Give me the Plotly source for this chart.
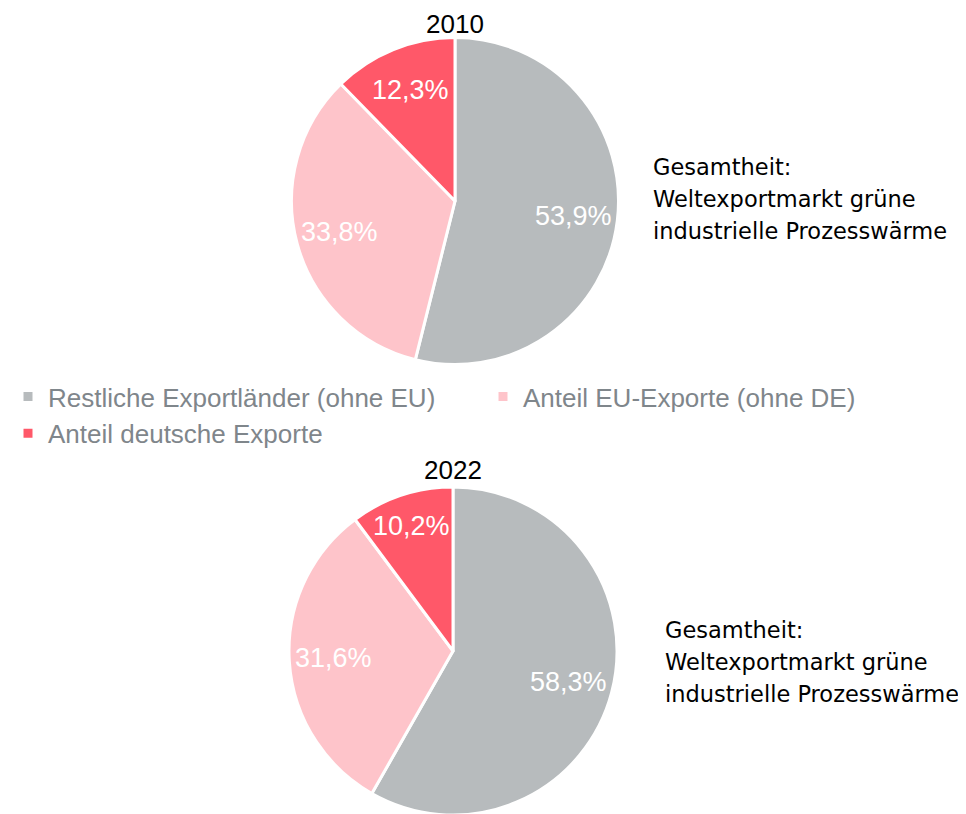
import math
import plotly.graph_objects as go

labels = ["Restliche Exportländer (ohne EU)", "Anteil EU-Exporte (ohne DE)", "Anteil deutsche Exporte"]
colors = ["#b7bbbd", "#fec4ca", "#ff5869"]
values_2010 = [53.9, 33.8, 12.3]
values_2022 = [58.3, 31.6, 10.2]
years = ["2010", "2022"]
note_lines = ["Gesamtheit:", "Weltexportmarkt grüne", "industrielle Prozesswärme"]

FONT = "Liberation Sans"
NOTE_FONT = "DejaVu Sans"
W, H = 966, 814
OFF = 8  # page body margin offset


def fx(px):
    return (px - OFF) / W


def fy(py):
    return 1 - (py - OFF) / H


def fmt(v):
    return f"{v:.1f}".replace(".", ",") + "%"


# pie geometry (screen px): centre and radius
pies = [
    dict(vals=values_2010, cx=455, cy=201, r=163.5, show=True, year=years[0], ty=None, nx=651, ny=167),
    dict(vals=values_2022, cx=453, cy=651, r=164, show=False, year=years[1], ty=470, nx=663, ny=630),
]

fig = go.Figure()
for p in pies:
    hx = 230 / W
    hy = p["r"] / H
    dom = dict(x=[fx(p["cx"]) - hx, fx(p["cx"]) + hx], y=[fy(p["cy"]) - hy, fy(p["cy"]) + hy])
    fig.add_trace(go.Pie(
        labels=labels, values=p["vals"], textinfo="none",
        sort=False, direction="clockwise", rotation=0,
        marker=dict(colors=colors, line=dict(color="white", width=3)),
        domain=dom, showlegend=p["show"], hoverinfo="label+percent",
    ))
    # slice labels placed along each slice's mid-angle (narrow slices pushed outward)
    total = sum(p["vals"])
    cum = 0.0
    for v in p["vals"]:
        mid = (cum + v / 2) / total * 2 * math.pi
        cum += v
        frac = 0.80 if v / total < 0.12 else 0.73
        rr = frac * p["r"]
        lx = p["cx"] + rr * math.sin(mid)
        ly = p["cy"] - rr * math.cos(mid)
        fig.add_annotation(x=fx(lx), y=fy(ly), xref="paper", yref="paper", text=fmt(v),
                           showarrow=False, xanchor="center", yanchor="middle",
                           font=dict(size=27, color="white", family=FONT))
    if p["ty"] is None:
        fig.add_annotation(x=fx(p["cx"]), y=1, xref="paper", yref="paper", text=p["year"],
                           showarrow=False, yanchor="top", borderpad=0,
                           font=dict(size=26, color="black", family=FONT))
    else:
        fig.add_annotation(x=fx(p["cx"]), y=fy(p["ty"]), xref="paper", yref="paper", text=p["year"],
                           showarrow=False, yanchor="middle",
                           font=dict(size=26, color="black", family=FONT))
    for i, line in enumerate(note_lines):
        fig.add_annotation(x=fx(p["nx"]), y=fy(p["ny"] + 32 * i), xref="paper", yref="paper",
                           text=line, align="left", showarrow=False, xanchor="left", yanchor="middle",
                           font=dict(size=22.5, color="black", family=NOTE_FONT))

fig.update_layout(
    width=W, height=H, margin=dict(l=0, r=0, t=0, b=0),
    paper_bgcolor="white", plot_bgcolor="white",
    legend=dict(orientation="h", x=0.0, xanchor="left", y=fy(373), yanchor="top",
                font=dict(size=26, color="#7f868b", family=FONT),
                entrywidth=430, traceorder="normal"),
)
fig.write_html("out.html")
